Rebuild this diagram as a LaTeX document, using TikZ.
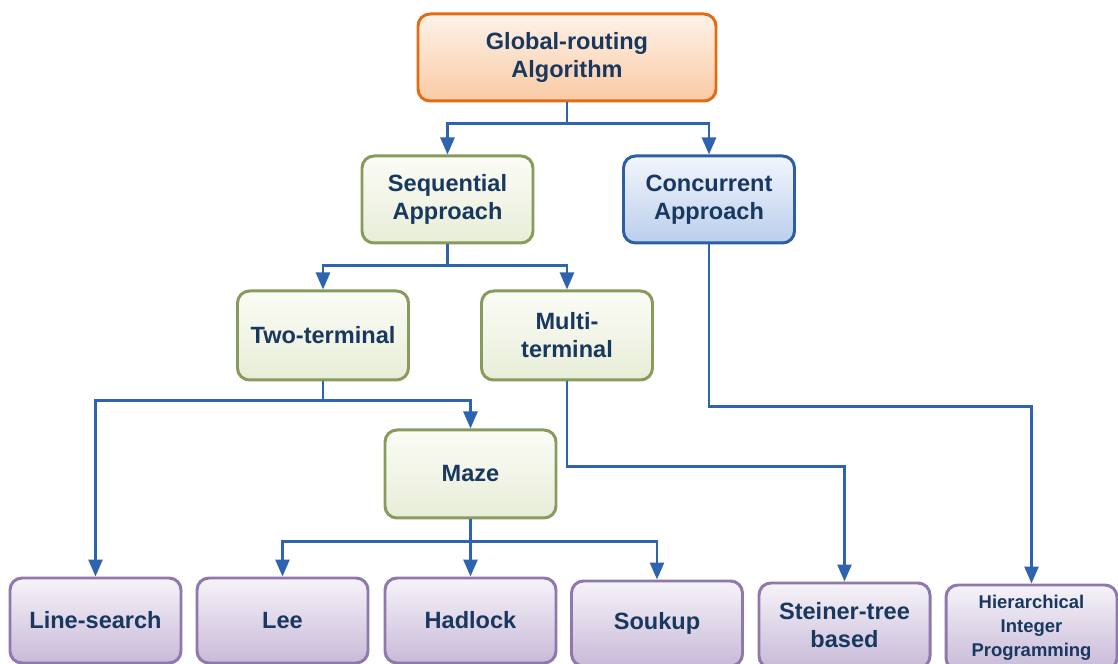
\documentclass[tikz,border=0pt]{standalone}
\usepackage{fontspec}
\setmainfont{Liberation Sans}
\usepackage{tikz}
\usetikzlibrary{arrows.meta,positioning}
\usepackage{xcolor}
\definecolor{grnavy}{RGB}{24,56,96}
\definecolor{grarrow}{RGB}{46,100,175}
\definecolor{grorange}{RGB}{226,108,20}
\definecolor{grorangetop}{RGB}{254,242,232}
\definecolor{grorangebot}{RGB}{249,202,164}
\definecolor{grgreen}{RGB}{136,154,92}
\definecolor{grgreentop}{RGB}{251,252,246}
\definecolor{grgreenbot}{RGB}{232,237,216}
\definecolor{grblue}{RGB}{44,94,164}
\definecolor{grbluetop}{RGB}{242,246,252}
\definecolor{grbluebot}{RGB}{186,206,236}
\definecolor{grpurple}{RGB}{142,120,172}
\definecolor{grpurpletop}{RGB}{246,243,249}
\definecolor{grpurplebot}{RGB}{200,186,216}
\tikzstyle{box} = [rectangle, rounded corners=0.24cm, minimum width=3.42cm, minimum height=1.74cm, text centered, align=center, line width=1.7pt, text=grnavy, font=\fontsize{13.4}{16}\selectfont\bfseries]
\tikzstyle{rootbox} = [box, draw=grorange, top color=grorangetop, bottom color=grorangebot]
\tikzstyle{seqbox} = [box, draw=grgreen, top color=grgreentop, bottom color=grgreenbot]
\tikzstyle{concbox} = [box, draw=grblue, top color=grbluetop, bottom color=grbluebot]
\tikzstyle{leafbox} = [box, draw=grpurple, top color=grpurpletop, bottom color=grpurplebot, minimum height=1.70cm]
\tikzstyle{arrow} = [line width=1.5pt, -{Triangle[length=0.34cm, width=0.28cm]}, color=grarrow]

\begin{document}
\begin{tikzpicture}
\useasboundingbox (0,0) rectangle (22.36,13.28);
% Root
\node[rootbox, minimum width=5.96cm] (global) at (11.34,12.13) {Global-routing\\Algorithm};

% Approaches
\node[seqbox] (seq) at (8.95,9.29) {Sequential\\Approach};
\node[concbox] (conc) at (14.18,9.29) {Concurrent\\Approach};

% Net types
\node[seqbox, minimum height=1.78cm] (two) at (6.46,6.57) {Two-terminal};
\node[seqbox, minimum height=1.78cm] (multi) at (11.34,6.57) {Multi-\\terminal};
\node[seqbox, minimum height=1.76cm] (maze) at (9.41,3.80) {Maze};

% Leaves
\node[leafbox] (line) at (1.91,0.87) {Line-search};
\node[leafbox] (lee) at (5.65,0.87) {Lee};
\node[leafbox] (hadlock) at (9.41,0.87) {Hadlock};
\node[leafbox] (soukup) at (13.14,0.81) {Soukup};
\node[leafbox] (steiner) at (16.89,0.77) {Steiner-tree\\based};
\node[leafbox, font=\fontsize{10.5}{13.6}\selectfont\bfseries] (hier) at (20.63,0.73) {Hierarchical\\Integer\\Programming};

% Arrows
\draw[arrow] (global.south) -- ++(0,-0.42) -| (seq.north);
\draw[arrow] (global.south) -- ++(0,-0.42) -| (conc.north);
\draw[arrow] (seq.south) -- ++(0,-0.42) -| (two.north);
\draw[arrow] (seq.south) -- ++(0,-0.42) -| (multi.north);
\draw[arrow] (two.south) -- ++(0,-0.38) -| (line.north);
\draw[arrow] (two.south) -- ++(0,-0.38) -| (maze.north);
\draw[arrow] (multi.south) -- ++(0,-1.70) -| (steiner.north);
\draw[arrow] (conc.south) -- ++(0,-3.24) -| (hier.north);
\draw[arrow] (maze.south) -- ++(0,-0.44) -| (lee.north);
\draw[arrow] (maze.south) -- ++(0,-0.44) -| (hadlock.north);
\draw[arrow] (maze.south) -- ++(0,-0.44) -| (soukup.north);
\end{tikzpicture}
\end{document}
